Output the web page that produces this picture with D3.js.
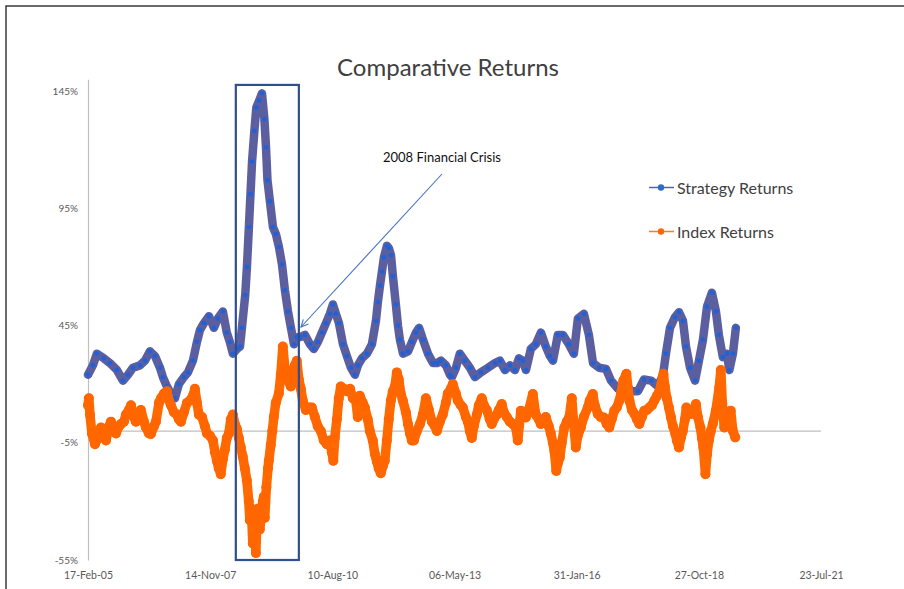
<!DOCTYPE html>
<html>
<head>
<meta charset="utf-8">
<script src="https://cdn.jsdelivr.net/npm/d3@7"></script>
<style>
  body { margin: 0; background: #fff; }
  text { font-family: Lato, "Open Sans", sans-serif; }
</style>
</head>
<body>
<svg id="chart" width="904" height="589"></svg>
<script>
// strategy returns, %
const stratDates = ["2005-02-17","2005-03-29","2005-05-01","2005-06-27","2005-08-15","2005-10-12","2005-11-30",
  "2006-01-10","2006-02-20","2006-04-18","2006-05-29","2006-07-09","2006-08-19","2006-09-29","2006-10-23","2006-11-25","2006-12-28",
  "2007-01-30","2007-03-03","2007-04-13","2007-05-16","2007-06-26","2007-07-29","2007-08-22","2007-09-24","2007-11-04","2007-12-15",
  "2008-01-16","2008-02-26","2008-03-29","2008-04-23","2008-05-18","2008-06-20","2008-07-15","2008-07-31","2008-08-27","2008-09-10",
  "2008-09-26","2008-10-09","2008-10-22","2008-11-10","2008-11-26","2008-12-20",
  "2009-01-11","2009-01-31","2009-02-13","2009-02-25","2009-03-17","2009-04-11","2009-05-05","2009-05-30","2009-06-24","2009-07-18",
  "2009-08-12","2009-09-05","2009-09-30","2009-10-24","2009-11-18","2009-12-29",
  "2010-02-08","2010-03-12","2010-04-14","2010-05-17","2010-06-19","2010-07-21","2010-08-15","2010-09-08","2010-10-03","2010-11-05","2010-12-07",
  "2011-01-09","2011-02-11","2011-03-07","2011-04-09","2011-05-20","2011-06-30","2011-08-02","2011-08-18","2011-09-04","2011-09-20",
  "2011-10-06","2011-10-31","2011-11-16","2011-12-03","2011-12-19",
  "2012-01-12","2012-01-29","2012-02-14","2012-03-11","2012-04-21","2012-05-23","2012-06-25","2012-07-20","2012-08-21","2012-10-01","2012-11-11","2012-12-14",
  "2013-01-15","2013-02-25","2013-03-30","2013-04-15","2013-05-18","2013-06-19","2013-07-30","2013-09-09","2013-10-20","2013-12-08",
  "2014-02-04","2014-04-02","2014-05-13","2014-06-23","2014-08-03","2014-09-13","2014-10-15","2014-11-17","2014-12-12",
  "2015-01-21","2015-03-03","2015-04-13","2015-05-24","2015-06-26","2015-07-21","2015-08-30","2015-10-10","2015-11-28",
  "2016-01-08","2016-02-10","2016-03-30","2016-05-10","2016-06-13","2016-08-01","2016-09-27","2016-11-07",
  "2017-01-03","2017-03-10","2017-04-20","2017-06-16","2017-08-04","2017-10-01","2017-11-27",
  "2018-01-07","2018-01-31","2018-03-05","2018-04-15","2018-05-18","2018-06-19","2018-07-14","2018-08-16","2018-09-26","2018-10-28","2018-11-30",
  "2019-01-02","2019-02-11","2019-03-16","2019-04-09","2019-05-12","2019-06-14","2019-07-04","2019-08-02","2019-08-26"];
const stratValues = [24,28,33,31,29,26,21.5,
  24,27,28,30,34,32,27,23,19,16,
  14,20,23,25,30,38,43,46,49,44,
  48,51,42,38,33,35,36,44,58,70,
  87,101,115,128,138,141,
  144,133,121,107,98,87,84,78.5,71,60,
  51,44,37,40,40,41,
  37,35,38,42,46,50,54,50,46,37,32,
  27,24,28,31,33,37,47,55,62,68,
  74,79,78,75,66,
  54,45,39,33,34,38,42,44,39,33,29,29,
  30,28,24,23,27,33,30,27,23,25,
  27,29,30,26,28,26,31,30,26,
  35,37,42,36,32,30,41,41,37,
  33,48,50,41,29,27,26.5,21.5,
  18,20,17,17,22,21.5,19,
  24,33,44,48.6,50.7,47,36,27,21.5,30,39,
  53,59,51,41,31.5,33,26,33,44];

// index returns, %
const indexDates = ["2005-02-17","2005-02-24","2005-03-05","2005-03-21","2005-04-15","2005-05-10","2005-06-03","2005-06-28","2005-07-14",
  "2005-08-08","2005-08-24","2005-09-17","2005-10-04","2005-10-28","2005-11-14","2005-12-08","2005-12-25",
  "2006-01-18","2006-02-04","2006-02-28","2006-03-16","2006-04-10","2006-04-26","2006-05-21","2006-06-06","2006-07-01","2006-07-17",
  "2006-08-11","2006-08-27","2006-09-21","2006-10-07","2006-11-01","2006-11-25","2006-12-12","2006-12-28",
  "2007-01-21","2007-02-15","2007-03-03","2007-03-20","2007-04-13","2007-05-08","2007-06-01","2007-06-26","2007-07-12","2007-07-29",
  "2007-08-14","2007-09-08","2007-10-02","2007-10-19","2007-11-12","2007-12-07","2007-12-23",
  "2008-01-08","2008-01-24","2008-02-09","2008-02-26","2008-03-13","2008-03-29","2008-04-15","2008-05-01","2008-05-18","2008-06-03",
  "2008-06-19","2008-07-06","2008-07-22","2008-08-07","2008-08-24","2008-09-09","2008-09-25","2008-10-04","2008-10-16","2008-10-28",
  "2008-11-05","2008-11-14","2008-11-22","2008-11-30","2008-12-12","2008-12-24",
  "2009-01-06","2009-01-18","2009-01-26","2009-02-03","2009-02-16","2009-03-01","2009-03-08","2009-03-24","2009-04-06","2009-04-18",
  "2009-05-04","2009-05-29","2009-06-14","2009-07-01","2009-07-17","2009-08-02","2009-08-19","2009-09-04","2009-09-21","2009-10-07",
  "2009-10-23","2009-11-09","2009-11-25","2009-12-11",
  "2010-01-05","2010-01-29","2010-02-23","2010-03-20","2010-04-13","2010-05-08","2010-06-01","2010-06-26","2010-07-20","2010-08-06",
  "2010-08-18","2010-08-30","2010-09-16","2010-10-02","2010-10-18","2010-11-12","2010-12-06",
  "2011-01-02","2011-01-25","2011-02-18","2011-03-06","2011-03-23","2011-04-16","2011-05-03","2011-05-27","2011-06-13","2011-07-07",
  "2011-07-24","2011-08-09","2011-08-25","2011-09-11","2011-09-27","2011-10-13","2011-10-30","2011-11-15","2011-12-02","2011-12-18",
  "2012-01-04","2012-01-20","2012-02-05","2012-02-21","2012-03-09","2012-04-03","2012-04-20","2012-05-06","2012-05-22","2012-06-08",
  "2012-07-02","2012-07-27","2012-08-20","2012-09-14","2012-10-09","2012-11-02","2012-11-27","2012-12-13",
  "2013-01-06","2013-01-30","2013-02-24","2013-03-12","2013-04-06","2013-04-22","2013-05-17","2013-06-02","2013-06-27","2013-07-13",
  "2013-08-07","2013-08-23","2013-09-08","2013-09-25","2013-10-11","2013-11-05","2013-11-21","2013-12-15",
  "2014-01-02","2014-01-25","2014-02-19","2014-03-07","2014-03-24","2014-04-17","2014-05-04","2014-05-28","2014-06-14","2014-07-08",
  "2014-08-02","2014-08-26","2014-09-20","2014-10-06","2014-10-31","2014-11-24","2014-12-11",
  "2015-01-04","2015-02-06","2015-03-02","2015-03-27","2015-04-12","2015-05-07","2015-05-23","2015-06-17","2015-07-03","2015-07-20",
  "2015-08-01","2015-08-17","2015-08-29","2015-09-15","2015-10-01","2015-10-22","2015-11-11","2015-12-02","2015-12-22",
  "2016-01-07","2016-01-24","2016-02-09","2016-03-05","2016-03-29","2016-05-01","2016-05-17","2016-06-11","2016-06-27","2016-07-22",
  "2016-08-15","2016-09-09","2016-10-03","2016-10-24","2016-11-13","2016-12-04","2016-12-24",
  "2017-01-15","2017-01-31","2017-02-16","2017-03-13","2017-04-07","2017-04-27","2017-05-18","2017-06-07","2017-06-27","2017-07-18",
  "2017-08-07","2017-08-28","2017-09-17","2017-10-08","2017-10-28","2017-11-18","2017-12-08","2017-12-24",
  "2018-01-10","2018-01-22","2018-02-07","2018-02-24","2018-03-12","2018-03-29","2018-04-18","2018-04-30","2018-05-17","2018-06-02",
  "2018-06-18","2018-07-05","2018-07-17","2018-08-07","2018-08-23","2018-09-16","2018-10-03","2018-10-19","2018-11-09","2018-11-21",
  "2018-12-03","2018-12-20",
  "2019-01-02","2019-01-17","2019-02-02","2019-02-18","2019-03-15","2019-04-12","2019-04-25","2019-05-07","2019-05-23","2019-06-05",
  "2019-06-21","2019-07-15","2019-08-01","2019-08-21"];
const indexValues = [11,14,7,-1,-5.6,-3,1.5,-1,-4,
  2,4,1,-1,2,3,4,7,
  9,11,6,4,7,9,4,1.5,-1,-1.3,
  2,4,12,14,16,17,13,11,
  8,7,5,4,8,12,13,15,18,12,
  7,6,2,-1,-2,-4,-9,
  -12.7,-16,-18.4,-12,-8,-3,-1,5,7,3,
  1,-3,-7,-11,-16,-21,-30,-38,-33,-48,
  -45,-36,-52,-40,-33,-42,
  -36,-30,-28,-37,-24,-16,-12.7,-6,0,6,
  12,16,24,36,27,22,21,19,25,28,
  30,22,18,13,
  9,10,10,6,2,0,-4,-5.6,-4,-9,
  -12.7,-3,5,14,19,18,17,
  18,14,13,6,15,12,10,5,0,-4,
  -9.8,-13,-16,-18,-15,-12.7,-4,5,13,17,
  19,25,22,16,13,8,3,-1,-4,-4,
  0,3,7,14,9,4,2,0,
  4,7,12,16,18,20,16,13,11,10,
  6,4,0,-3,2,7,11,14,
  11,9,5,3,5,7,9,11.5,8,6,
  4,3,1.5,-4,8.7,7,5.8,
  9,15.8,7,5,3,4,6,2,-1,-5,
  -8.4,-17,-14,-11.3,-5,1.5,4,6,14,
  3,-7,-2,1.5,6,10,13,15.8,11,7.3,
  6,5.8,3,1.5,5,8.7,10,
  13,17,21.5,24.4,13,9,7.3,5,3,6,
  8.7,9,10,11,13,15,17,20,
  24.4,19,14,10,6,2,-1.3,-4,-7,-3,
  0,5,10,8,7.3,9,11.5,6,1.5,-3,
  -7,-18.4,
  -10,-4,0,3,8.7,18.6,26,12,1.5,5,
  7.3,8.7,0.1,-2.7];

const xTickDates = ["2005-02-17","2007-11-14","2010-08-10","2013-05-06","2016-01-31","2018-10-27","2021-07-23"];
const yTickValues = [-55, -5, 45, 95, 145];
const seriesNames = ["Strategy Returns", "Index Returns"];
const crisisRange = ["2008-06-11", "2009-11-09"];

const parse = d3.timeParse("%Y-%m-%d");
const fmt = d3.timeFormat("%d-%b-%y");

const strat = stratDates.map((d, i) => ({date: parse(d), v: stratValues[i]}));
const index = indexDates.map((d, i) => ({date: parse(d), v: indexValues[i]}));

const svg = d3.select("#chart");

const x = d3.scaleTime()
  .domain([parse(xTickDates[0]), parse(xTickDates[xTickDates.length - 1])])
  .range([88, 821]);
const y = d3.scaleLinear().domain([-55, 150]).range([560, 79.3]);

// chart area frame (only top and left edges are in view)
svg.append("path")
  .attr("d", "M6,589V6H904")
  .attr("fill", "none")
  .attr("stroke", "#3a3a3a")
  .attr("stroke-width", 1.5);

svg.append("text")
  .attr("x", 448).attr("y", 66)
  .attr("text-anchor", "middle")
  .attr("dominant-baseline", "central")
  .attr("font-size", 24)
  .attr("fill", "#404040")
  .text("Comparative Returns");

// horizontal axis line at 0
svg.append("line")
  .attr("x1", x.range()[0]).attr("x2", x.range()[1])
  .attr("y1", y(0)).attr("y2", y(0))
  .attr("stroke", "#bfbfbf").attr("stroke-width", 1.2);

// y axis
const yAxis = svg.append("g")
  .attr("transform", "translate(88,0)")
  .call(d3.axisLeft(y).tickValues(yTickValues).tickSize(0).tickSizeOuter(0).tickPadding(10).tickFormat(d => d + "%"));
yAxis.select(".domain").attr("stroke", "#bfbfbf").attr("stroke-width", 1.2);
yAxis.selectAll("text").attr("font-size", 10).attr("fill", "#595959")
  .style("font-family", "Lato, sans-serif");

// x axis labels (low position)
const xAxis = svg.append("g")
  .attr("transform", "translate(0,566)")
  .call(d3.axisBottom(x).tickValues(xTickDates.map(parse)).tickSize(0).tickPadding(6).tickFormat(fmt));
xAxis.select(".domain").remove();
xAxis.selectAll("text").attr("font-size", 10.5).attr("fill", "#595959")
  .style("font-family", "Lato, sans-serif");

const line = d3.line().x(d => x(d.date)).y(d => y(d.v));

// strategy series
svg.append("path").datum(strat)
  .attr("d", line)
  .attr("fill", "none")
  .attr("stroke", "#5c5f9f")
  .attr("stroke-width", 8.5)
  .attr("stroke-linejoin", "round")
  .attr("stroke-linecap", "round");
svg.append("g").selectAll("circle").data(strat).join("circle")
  .attr("cx", d => x(d.date)).attr("cy", d => y(d.v))
  .attr("r", 2.4)
  .attr("fill", "#1f62d8");

// index series
svg.append("path").datum(index)
  .attr("d", line)
  .attr("fill", "none")
  .attr("stroke", "#ff6a00")
  .attr("stroke-width", 9.5)
  .attr("stroke-linejoin", "round")
  .attr("stroke-linecap", "round");
svg.append("g").selectAll("circle").data(index).join("circle")
  .attr("cx", d => x(d.date)).attr("cy", d => y(d.v))
  .attr("r", 5)
  .attr("fill", "#ff6600");

// crisis box
svg.append("rect")
  .attr("x", x(parse(crisisRange[0])))
  .attr("y", y(147.6))
  .attr("width", x(parse(crisisRange[1])) - x(parse(crisisRange[0])))
  .attr("height", y(-55) - y(147.6))
  .attr("fill", "none")
  .attr("stroke", "#2f4f8f")
  .attr("stroke-width", 2.2);

// annotation arrow + label
const ax1 = 442, ay1 = 174, ax2 = 301, ay2 = 327;
const ang = Math.atan2(ay2 - ay1, ax2 - ax1);
const hl = 8, hw = 0.45;
svg.append("line")
  .attr("x1", ax1).attr("y1", ay1).attr("x2", ax2).attr("y2", ay2)
  .attr("stroke", "#4472c4").attr("stroke-width", 1.1);
svg.append("path")
  .attr("d", `M${ax2 - hl * Math.cos(ang - hw)},${ay2 - hl * Math.sin(ang - hw)}L${ax2},${ay2}L${ax2 - hl * Math.cos(ang + hw)},${ay2 - hl * Math.sin(ang + hw)}`)
  .attr("fill", "none").attr("stroke", "#4472c4").attr("stroke-width", 1.1);
svg.append("text")
  .attr("x", 383).attr("y", 157)
  .attr("dominant-baseline", "central")
  .attr("font-size", 13)
  .attr("fill", "#111")
  .text("2008 Financial Crisis");

// legend
const legendColors = [{line: "#5a5fa8", dot: "#2f6ad0"}, {line: "#ff7a20", dot: "#ff6600"}];
const legend = svg.append("g").selectAll("g").data(seriesNames).join("g")
  .attr("transform", (d, i) => `translate(649,${187.5 + i * 44})`);
legend.append("line")
  .attr("x1", 0).attr("x2", 25).attr("y1", 0).attr("y2", 0)
  .attr("stroke", (d, i) => legendColors[i].line).attr("stroke-width", 1.5);
legend.append("circle")
  .attr("cx", 12).attr("cy", 0).attr("r", 3.2)
  .attr("fill", (d, i) => legendColors[i].dot);
legend.append("text")
  .attr("x", 28).attr("y", 0)
  .attr("dominant-baseline", "central")
  .attr("font-size", 16)
  .attr("fill", "#404040")
  .text(d => d);
</script>
</body>
</html>
